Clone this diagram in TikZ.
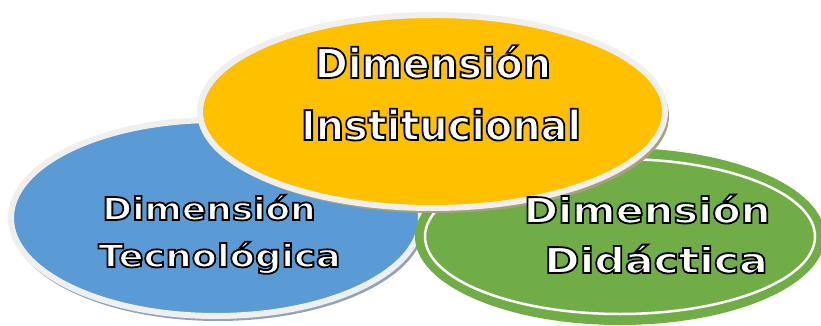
\documentclass[tikz,border=0pt]{standalone}
\usepackage{fontspec}
\newfontfamily\yelfont{DejaVu Sans Bold}[FakeStretch=0.97]
\newfontfamily\blufont{DejaVu Sans Bold}[FakeStretch=1.14]
\newfontfamily\blufontb{DejaVu Sans Bold}[FakeStretch=1.17]
\newfontfamily\grnfont{DejaVu Sans Bold}[FakeStretch=1.17]
\newfontfamily\grnfontb{DejaVu Sans Bold}[FakeStretch=1.2]
\definecolor{cblue}{HTML}{5B9BD5}
\definecolor{cyel}{HTML}{FFC000}
\definecolor{cgrn}{HTML}{70AD47}
\definecolor{crim}{HTML}{EFEFEF}
\definecolor{cshb}{HTML}{8FA3BC}
\definecolor{cshy}{HTML}{A8A07A}
\newcommand{\olt}[1]{{\color{white}\special{pdf:literal direct 0 0 0 RG 2 Tr 1.8 w}#1\special{pdf:literal direct 0 Tr 0.4 w}}}
\tikzset{
  lbl/.style={anchor=base, inner sep=0pt, text=white},
  rimmed/.style={line width=6pt, draw=crim},
}
\begin{document}
\begin{tikzpicture}[x=1pt,y=-1pt]
\useasboundingbox (0,0) rectangle (821,326);
% blue ellipse
\fill[cshb] (218,222) ellipse [x radius=207, y radius=99];
\draw[rimmed, fill=cblue] (216,218) ellipse [x radius=205, y radius=98];
% green ellipse
\fill[cgrn] (620,236.5) ellipse [x radius=205, y radius=88.5];
\draw[white, line width=2.5pt] (620,236.5) ellipse [x radius=195, y radius=77.5];
% yellow ellipse
\fill[cshy] (436,116) ellipse [x radius=233, y radius=97];
\draw[rimmed, fill=cyel] (432.5,111.5) ellipse [x radius=232.5, y radius=96.5];
% texts
\node[lbl, font=\yelfont\fontsize{41}{44}\selectfont] (y1) at (433,78) {\olt{Dimensión}};
\node[lbl, font=\yelfont\fontsize{41}{44}\selectfont] (y2) at (441,140) {\olt{Institucional}};
\node[lbl, font=\blufont\fontsize{31.5}{34}\selectfont] (b1) at (209,220) {\olt{Dimensión}};
\node[lbl, font=\blufontb\fontsize{31.5}{34}\selectfont] (b2) at (219.5,267) {\olt{Tecnológica}};
\node[lbl, font=\grnfont\fontsize{35.5}{38}\selectfont] (g1) at (647,223) {\olt{Dimensión}};
\node[lbl, font=\grnfontb\fontsize{35.5}{38}\selectfont] (g2) at (656,273) {\olt{Didáctica}};
\end{tikzpicture}
\end{document}
